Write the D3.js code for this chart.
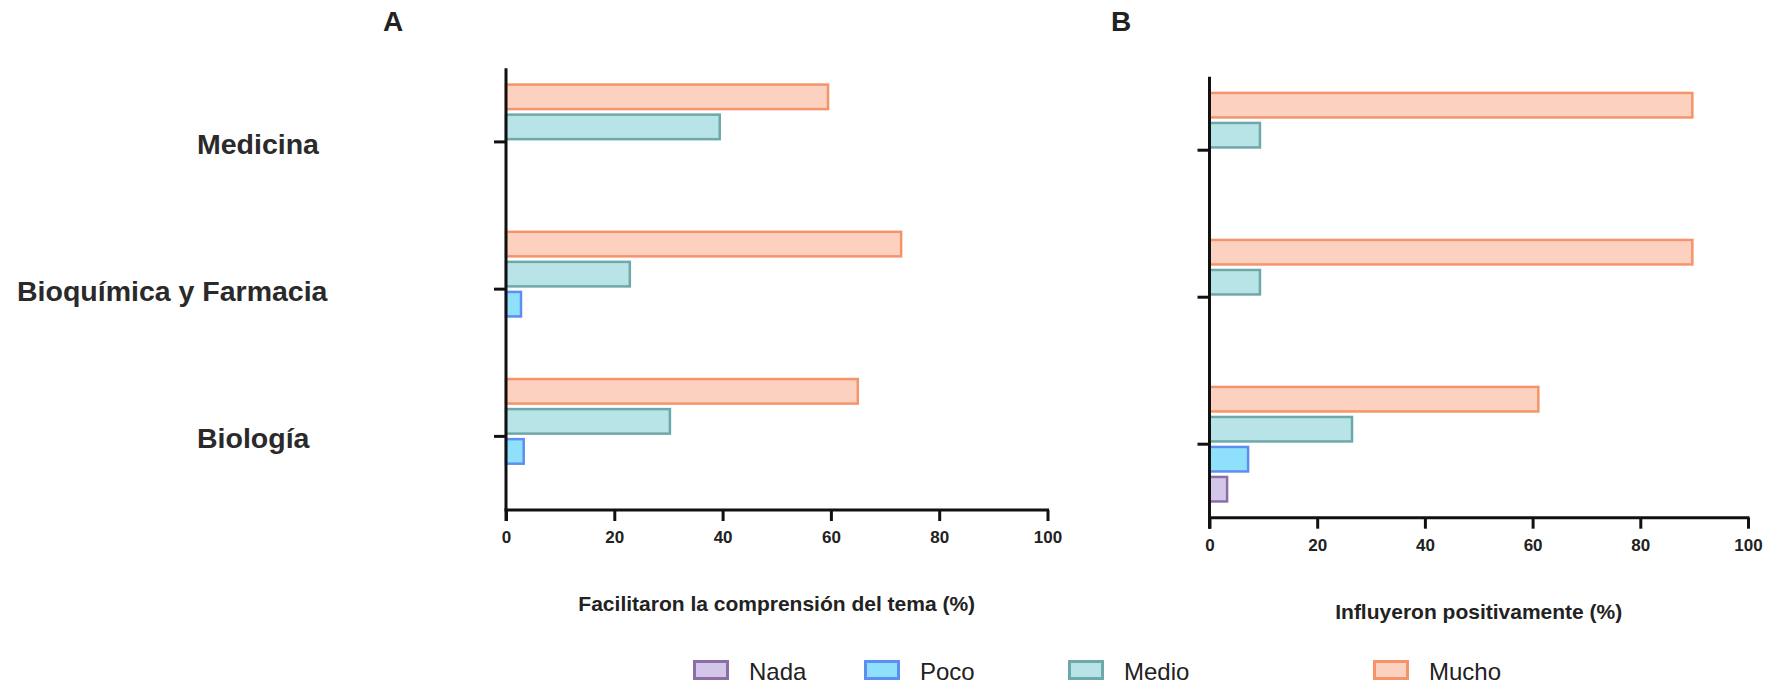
<!DOCTYPE html>
<html>
<head>
<meta charset="utf-8">
<script src="https://cdn.jsdelivr.net/npm/d3@7/dist/d3.min.js"></script>
<style>
  html, body { margin: 0; padding: 0; background: #fff; }
  svg { display: block; font-family: "Liberation Sans", Arial, Helvetica, sans-serif; }
</style>
</head>
<body>
<svg id="chart" width="1776" height="686"></svg>
<script>
// ---------- data ----------
const categories = ["Medicina", "Bioquímica y Farmacia", "Biología"];
const levels = ["Nada", "Poco", "Medio", "Mucho"];
const tickValues = [0, 20, 40, 60, 80, 100];
const tickLabels = ["0", "20", "40", "60", "80", "100"];

// Panel A: Facilitaron la comprensión del tema (%)
const aNada  = [0, 0, 0];
const aPoco  = [0, 3.0, 3.5];
const aMedio = [39.7, 23.1, 30.5];
const aMucho = [59.7, 73.2, 65.2];

// Panel B: Influyeron positivamente (%)
const bNada  = [0, 0, 3.5];
const bPoco  = [0, 0, 7.4];
const bMedio = [9.6, 9.6, 26.7];
const bMucho = [89.9, 89.9, 61.3];

const titleA = "Facilitaron la comprensión del tema (%)";
const titleB = "Influyeron positivamente (%)";

// ---------- styles ----------
const fills   = { Nada: "#d4c6e9", Poco: "#8fe1fb", Medio: "#b8e3e7", Mucho: "#fdd1c0" };
const strokes = { Nada: "#8c6ea7", Poco: "#5b8ff2", Medio: "#6da8aa", Mucho: "#f5946a" };
const barStroke = 2.5;

const svg = d3.select("#chart");

function panel(opts) {
  const { x0, x1, y0, y1, series, letter, letterX, axisTitle } = opts;
  const x = d3.scaleLinear().domain([0, 100]).range([x0, x1]);
  const yBand = d3.scaleBand().domain(categories).range([y0, y1]).padding(0);
  const ySub = d3.scaleBand().domain(["Mucho", "Medio", "Poco", "Nada"])
    .range([0, yBand.bandwidth()]).paddingInner(0.1).paddingOuter(0.5);

  const g = svg.append("g");

  // bars
  const rows = [];
  categories.forEach((c, i) => {
    levels.forEach(l => {
      const v = series[l][i];
      if (v > 0) rows.push({ c, l, v });
    });
  });
  g.selectAll("rect.bar").data(rows).join("rect")
    .attr("class", "bar")
    .attr("x", x(0))
    .attr("y", d => yBand(d.c) + ySub(d.l) + barStroke / 2)
    .attr("width", d => x(d.v) - x(0) - barStroke / 2)
    .attr("height", ySub.bandwidth() - barStroke)
    .attr("fill", d => fills[d.l])
    .attr("stroke", d => strokes[d.l])
    .attr("stroke-width", barStroke);

  // x axis
  const xAxis = d3.axisBottom(x).tickValues(tickValues)
    .tickFormat((d, i) => tickLabels[i]).tickSize(11).tickSizeOuter(0).tickPadding(6);
  const gx = g.append("g").attr("transform", `translate(0,${y1})`).call(xAxis);
  gx.select(".domain").attr("stroke", "#111").attr("stroke-width", 3)
    .attr("d", `M${x0 - 1.5},0H${x1 + 1.5}`);
  gx.selectAll(".tick line").attr("stroke", "#111").attr("stroke-width", 3);
  gx.selectAll(".tick text").attr("fill", "#222")
    .style("font-size", "17px").style("font-weight", "bold").attr("dy", "0.95em");

  // y axis
  const yAxis = d3.axisLeft(yBand).tickSize(12).tickSizeOuter(0).tickFormat("");
  const gy = g.append("g").attr("transform", `translate(${x0},0)`).call(yAxis);
  gy.select(".domain").attr("stroke", "#111").attr("stroke-width", 3)
    .attr("d", `M0,${y0}V${y1 + 11}`);
  gy.selectAll(".tick line").attr("stroke", "#111").attr("stroke-width", 3);

  // panel letter
  g.append("text").attr("x", letterX).attr("y", 31)
    .attr("fill", "#222").style("font-size", "28px").style("font-weight", "bold")
    .text(letter);

  // axis title
  g.append("text").attr("x", (x0 + x1) / 2).attr("y", y1 + 101)
    .attr("text-anchor", "middle").attr("fill", "#222")
    .style("font-size", "21px").style("font-weight", "bold")
    .text(axisTitle);

  return yBand;
}

const yA = panel({
  x0: 506, x1: 1047.5, y0: 68.3, y1: 510,
  series: { Nada: aNada, Poco: aPoco, Medio: aMedio, Mucho: aMucho },
  letter: "A", letterX: 383, axisTitle: titleA
});

panel({
  x0: 1209.5, x1: 1748, y0: 76.7, y1: 517.7,
  series: { Nada: bNada, Poco: bPoco, Medio: bMedio, Mucho: bMucho },
  letter: "B", letterX: 1111, axisTitle: titleB
});

// category labels (left of panel A)
const labelLeft = [197, 17, 197];
svg.append("g").selectAll("text").data(categories).join("text")
  .attr("x", (d, i) => labelLeft[i])
  .attr("y", d => yA(d) + yA.bandwidth() / 2 + 2)
  .attr("dy", "0.35em")
  .attr("fill", "#2a2a2a")
  .style("font-size", "28.5px").style("font-weight", "bold")
  .text(d => d);

// legend
const legendX = [693, 864, 1068, 1373];
const lg = svg.append("g").selectAll("g").data(levels).join("g")
  .attr("transform", (d, i) => `translate(${legendX[i]},660)`);
lg.append("rect").attr("x", 1.5).attr("y", 1.5).attr("width", 33).attr("height", 17)
  .attr("fill", d => fills[d]).attr("stroke", d => strokes[d]).attr("stroke-width", 3);
lg.append("text").attr("x", 56).attr("y", 20)
  .attr("fill", "#222").style("font-size", "24px")
  .text(d => d);
</script>
</body>
</html>
